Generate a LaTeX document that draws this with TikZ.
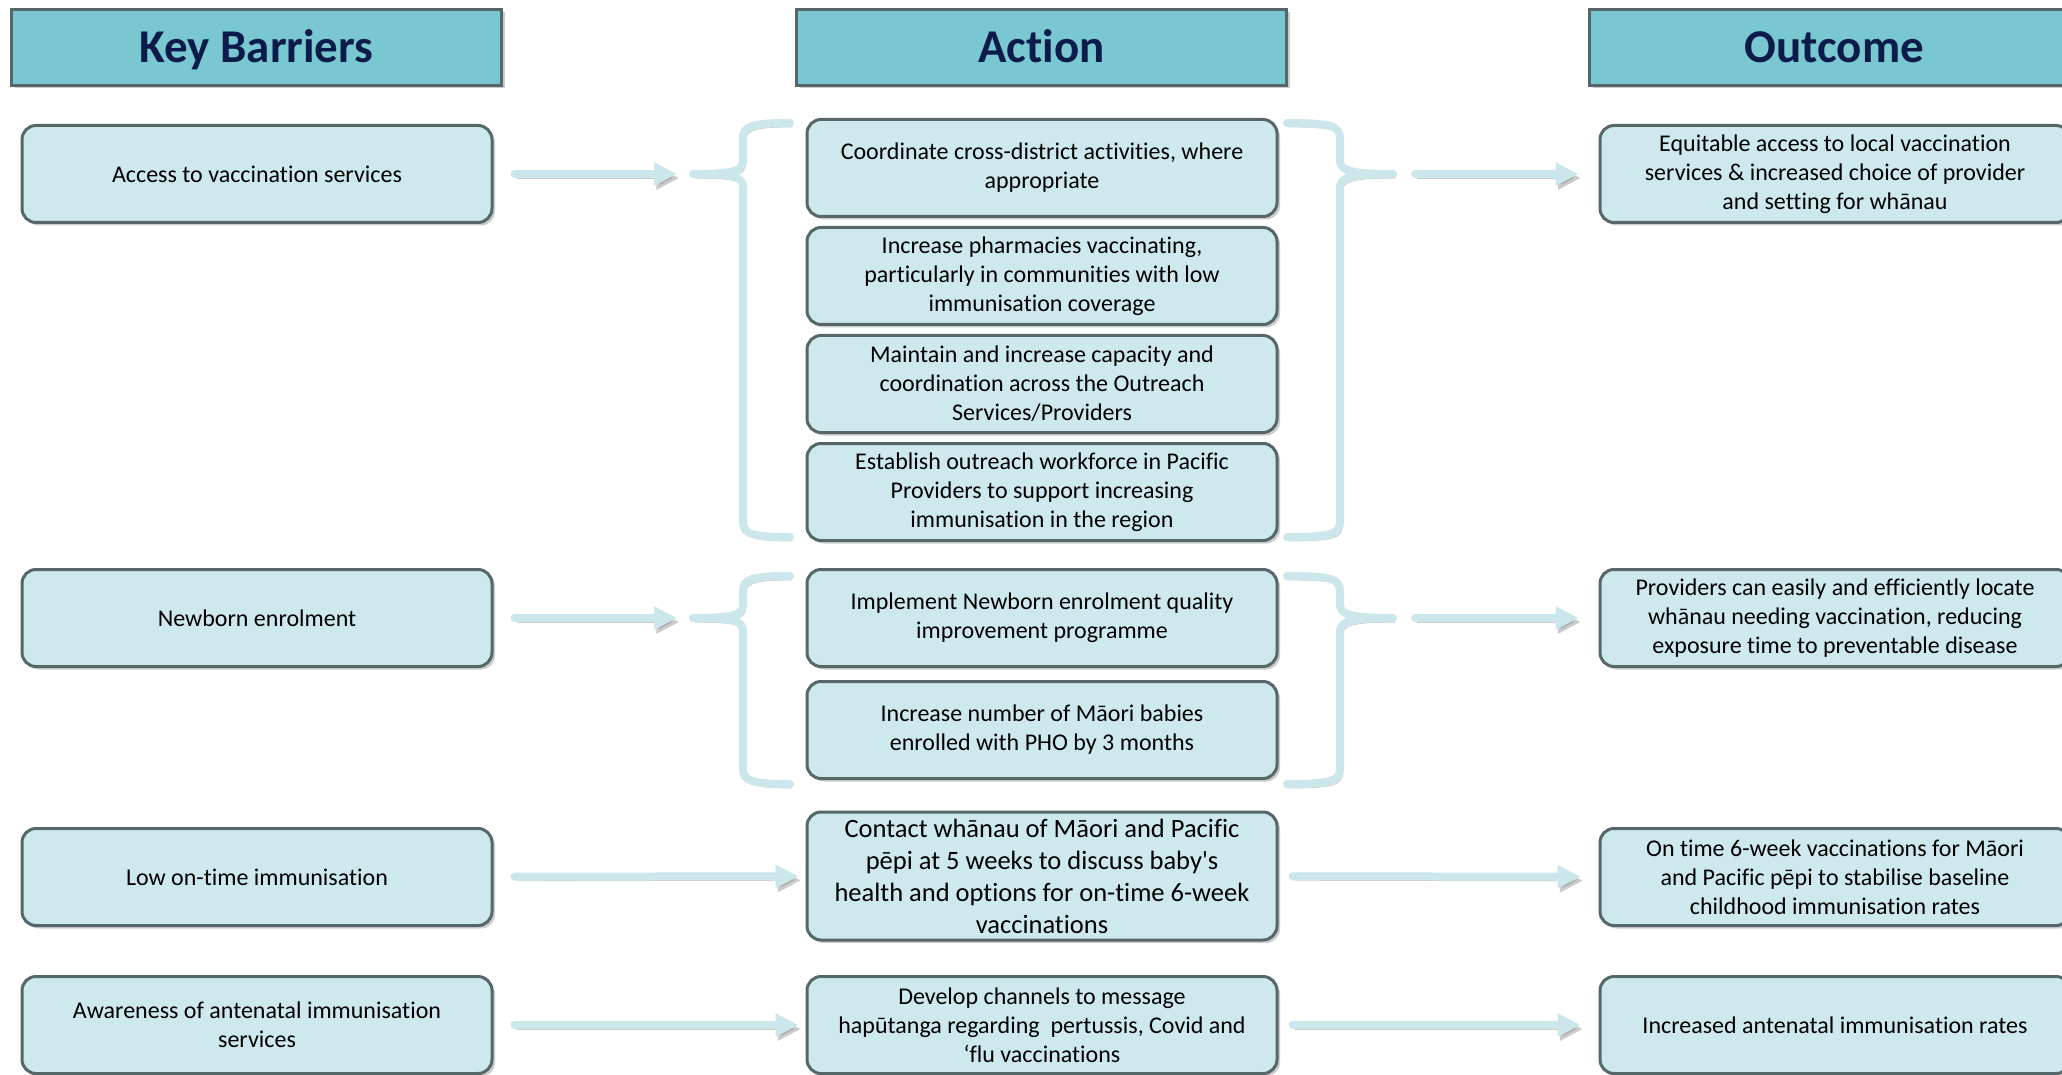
\documentclass[tikz,border=0pt]{standalone}
\usepackage{fontspec}
\setmainfont{Carlito}[Ligatures={TeX,NoCommon}]
\usetikzlibrary{positioning,arrows.meta,shadows}
\definecolor{headfill}{HTML}{79C7D1}
\definecolor{boxfill}{HTML}{CDE9ED}
\definecolor{edgegray}{HTML}{56676A}
\definecolor{navy}{HTML}{0D1B4B}
\definecolor{linkblue}{HTML}{CBE7EC}

\begin{document}
\begin{tikzpicture}[x=0.5pt,y=-0.5pt]
\tikzstyle{header}=[rectangle, draw=edgegray, line width=1.5pt, fill=headfill, minimum width=245pt, minimum height=38pt, text=navy, font=\fontsize{23.5}{26}\selectfont\bfseries, text height=15pt, text depth=0pt, drop shadow={shadow xshift=1.5pt, shadow yshift=-1.5pt, opacity=0.4}]
\tikzstyle{main}=[rectangle, rounded corners=7pt, draw=edgegray, line width=1.5pt, fill=boxfill, minimum width=235pt, minimum height=48.5pt, align=center, inner sep=2pt, font=\fontsize{12}{14.5}\selectfont, drop shadow={shadow xshift=1.5pt, shadow yshift=-1.5pt, opacity=0.4}]
\tikzstyle{connect}=[-{Triangle[length=11.5pt, width=11pt]}, line width=4pt, line cap=round, draw=linkblue, preaction={draw=black!45, opacity=0.45, transform canvas={xshift=1.2pt, yshift=-2pt}}]
\tikzstyle{brace}=[line width=4pt, line cap=round, line join=round, draw=linkblue, preaction={draw=black!45, opacity=0.45, transform canvas={xshift=1.2pt, yshift=-2pt}}]
  \useasboundingbox (0,0) rectangle (2062,1075);

  % column heads
  \node[header] (keyhead) at (256.5,47.5) {Key Barriers};
  \node[header] (acthead) at (1041.5,47.5) {Action};
  \node[header] (outhead) at (1834.5,47.5) {Outcome};

  % barriers
  \node[main] (access) at (257,174) {Access to vaccination services};
  \node[main] (newborn) at (257,618) {Newborn enrolment};
  \node[main] (ontime) at (257,877) {Low on-time immunisation};
  \node[main] (aware) at (257,1025) {Awareness of antenatal immunisation\\services};

  % actions
  \node[main] (coord) at (1042,168) {Coordinate cross-district activities, where\\appropriate};
  \node[main] (pharm) [below=4pt of coord] {Increase pharmacies vaccinating,\\particularly in communities with low\\immunisation coverage};
  \node[main] (outreach) [below=4pt of pharm] {Maintain and increase capacity and\\coordination across the Outreach\\Services/Providers};
  \node[main] (pacific) [below=4pt of outreach] {Establish outreach workforce in Pacific\\Providers to support increasing\\immunisation in the region};
  \node[main] (newbornqi) at (1042,618) {Implement Newborn enrolment quality\\improvement programme};
  \node[main] (phobabies) [below=6pt of newbornqi] {Increase number of Māori babies\\enrolled with PHO by 3 months};
  \node[main, minimum height=64pt, font=\fontsize{13.25}{16}\selectfont] (contact) at (1042,876) {Contact whānau of Māori and Pacific\\pēpi at 5 weeks to discuss baby\textquotesingle s\\health and options for on-time 6-week\\vaccinations};
  \node[main] (channels) at (1042,1025) {Develop channels to message\\hapūtanga regarding\ \ pertussis, Covid and\\‘flu vaccinations};

  % outcomes
  \node[main] (equitable) at (1835,174) {Equitable access to local vaccination\\services \& increased choice of provider\\and setting for whānau};
  \node[main] (locate) at (1835,618) {Providers can easily and efficiently locate\\whānau needing vaccination, reducing\\exposure time to preventable disease};
  \node[main] (sixweek) at (1835,877) {On time 6-week vaccinations for Māori\\and Pacific pēpi to stabilise baseline\\childhood immunisation rates};
  \node[main] (antenatal) at (1835,1025) {Increased antenatal immunisation rates};

  % brace tips
  \coordinate (accessin) at (693,174);
  \coordinate (accessout) at (1393,174);
  \coordinate (newbornin) at (693,618);
  \coordinate (newbornout) at (1393,618);

  \foreach \tipy/\topy/\boty in {174/123/537, 618/576/784} {
    \draw[brace] (693,\tipy) .. controls (733,\tipy) and (743,\tipy-3) .. (743,\tipy-13) -- (743,\topy+15) .. controls (743,\topy+3) and (752,\topy) .. (790,\topy);
    \draw[brace] (693,\tipy) .. controls (733,\tipy) and (743,\tipy+3) .. (743,\tipy+13) -- (743,\boty-15) .. controls (743,\boty-3) and (752,\boty) .. (790,\boty);
    \draw[brace] (1393,\tipy) .. controls (1353,\tipy) and (1340,\tipy-3) .. (1340,\tipy-13) -- (1340,\topy+15) .. controls (1340,\topy+3) and (1331,\topy) .. (1287,\topy);
    \draw[brace] (1393,\tipy) .. controls (1353,\tipy) and (1340,\tipy+3) .. (1340,\tipy+13) -- (1340,\boty-15) .. controls (1340,\boty-3) and (1331,\boty) .. (1287,\boty);
  }

  \draw[connect, shorten <=10.5pt, shorten >=8pt] (access) -- (accessin);
  \draw[connect, shorten <=11pt, shorten >=10pt] (accessout) -- (equitable);
  \draw[connect, shorten <=10.5pt, shorten >=8pt] (newborn) -- (newbornin);
  \draw[connect, shorten <=11pt, shorten >=10pt] (newbornout) -- (locate);
  \draw[connect, shorten <=10.5pt, shorten >=3.5pt] (ontime) -- (contact);
  \draw[connect, shorten <=7pt, shorten >=9pt] (contact) -- (sixweek);
  \draw[connect, shorten <=10.5pt, shorten >=3.5pt] (aware) -- (channels);
  \draw[connect, shorten <=7pt, shorten >=9pt] (channels) -- (antenatal);
\end{tikzpicture}
\end{document}
